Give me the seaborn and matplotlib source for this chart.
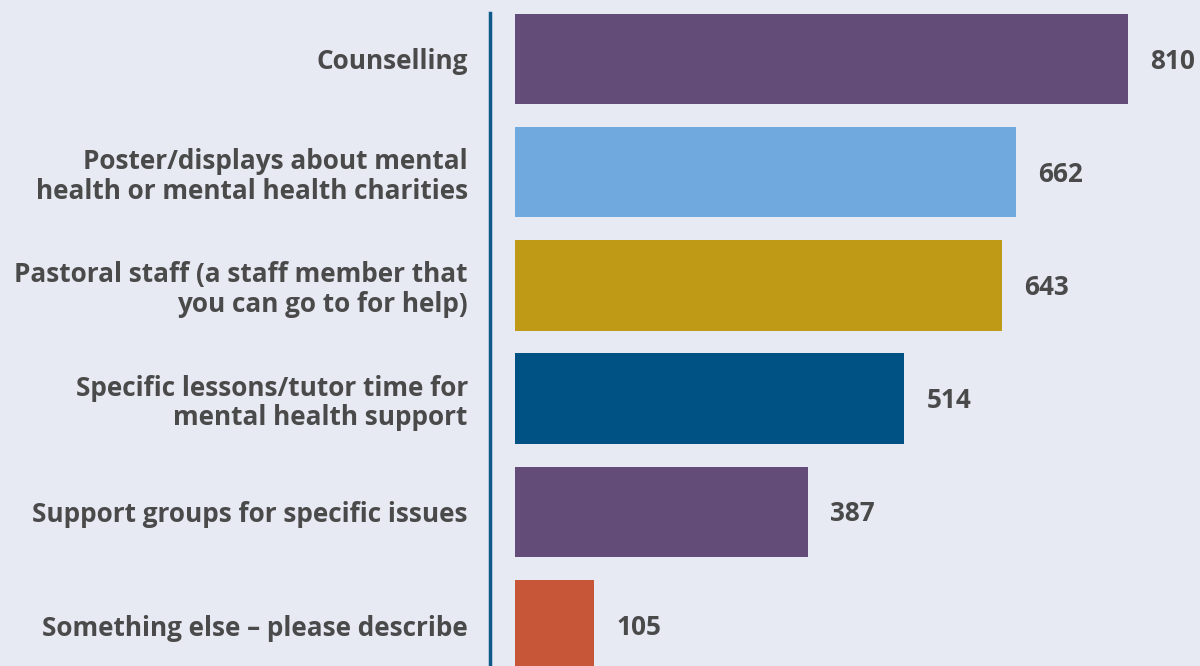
import matplotlib
matplotlib.use("Agg")
import matplotlib.pyplot as plt
import seaborn as sns
import pandas as pd

categories = [
    "Counselling",
    "Poster/displays about mental\nhealth or mental health charities",
    "Pastoral staff (a staff member that\nyou can go to for help)",
    "Specific lessons/tutor time for\nmental health support",
    "Support groups for specific issues",
    "Something else – please describe",
]
values = [810, 662, 643, 514, 387, 105]
colors = ["#634c78", "#6fa9dd", "#bf9a17", "#005284", "#634c78", "#c65637"]

BG = "#e7e9f3"
TEXT = "#4a4a4a"

sns.set_theme(style="white")
plt.rcParams["font.family"] = ["Open Sans", "DejaVu Sans"]

df = pd.DataFrame({"category": categories, "value": values})

fig = plt.figure(figsize=(12, 6.66), dpi=100)
fig.patch.set_facecolor(BG)
ax = fig.add_axes([490 / 1200, 0, 1 - 490 / 1200, 1 - 13 / 666])
ax.set_facecolor(BG)

sns.barplot(data=df, x="value", y="category", hue="category",
            palette=colors, orient="h", width=0.8, legend=False,
            saturation=1, linewidth=0, ax=ax)

ax.set_xlim(-33, 905)
ax.set_ylim(5.362, -0.406)
ax.set_xlabel("")
ax.set_ylabel("")
ax.set_xticks([])

for s in ["top", "right", "bottom"]:
    ax.spines[s].set_visible(False)
ax.spines["left"].set_color("#0d5a8a")
ax.spines["left"].set_linewidth(2.5)

FS = 18.8
ax.tick_params(axis="y", length=0, pad=16)
for lbl in ax.get_yticklabels():
    lbl.set_fontsize(FS)
    lbl.set_fontweight("bold")
    lbl.set_color(TEXT)
    lbl.set_linespacing(1.12)
    lbl.set_horizontalalignment("right")
    lbl.set_multialignment("right")

for i, v in enumerate(values):
    ax.annotate(f"{v}", xy=(v, i), xytext=(16, -1.5), textcoords="offset points",
                ha="left", va="center", fontsize=FS, fontweight="bold",
                color=TEXT)

fig.savefig("out.png", dpi=100, facecolor=BG)
